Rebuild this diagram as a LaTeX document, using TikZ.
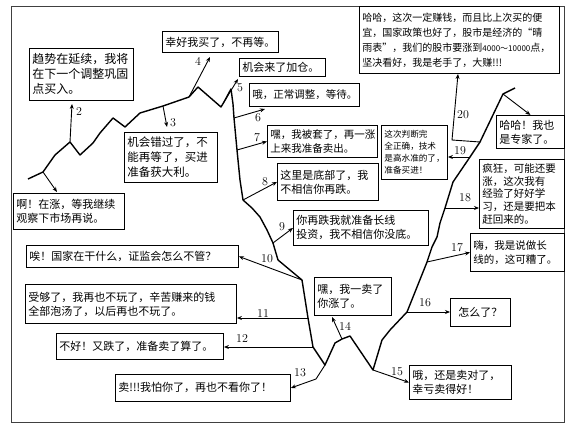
\documentclass[tikz,border=0pt]{standalone}
\usepackage{fontspec}
\newfontfamily\cjk{Noto Sans CJK SC}
\usetikzlibrary{arrows.meta}

\begin{document}
\begin{tikzpicture}[x=1pt,y=-1pt,
      bubble/.style={draw,line width=0.9pt,anchor=north west,inner sep=3pt,align=left,
        font=\cjk\fontsize{11}{14}\selectfont},
      small/.style={font=\cjk\fontsize{10.5}{14}\selectfont},
      trend/.style={line width=1.4pt,line join=round},
      arr/.style={line width=0.9pt,-{Stealth[length=5pt,width=4pt]}},
      num/.style={font=\fontsize{12}{14}\selectfont,inner sep=0pt}]
  \useasboundingbox (0,0) rectangle (576,428);
  \draw[line width=0.9pt,black!75] (11,6) rectangle (564,422);

  % the price curve
  \draw[trend] (28,179) -- (43,172) coordinate (p1) -- (55,155) -- (70,142) coordinate (p2)
    -- (80,155) -- (93,143) -- (100,133) -- (113,118) -- (125,127) -- (140,113)
    -- (163,106) coordinate (p3) -- (189,97) coordinate (p4) -- (198,87) -- (221,107)
    -- (224,102) coordinate (p5) -- (231,89) -- (233,104) -- (234,118) coordinate (p6)
    -- (237,150) coordinate (p7) -- (240,180) -- (243,200) coordinate (p8) -- (252,208)
    -- (260,217) -- (267,230) -- (273,243) coordinate (p9) -- (278,260)
    -- (302,280) coordinate (p10) -- (308,318) coordinate (p11) -- (313,347) coordinate (p12)
    -- (325,365) coordinate (p13) -- (335,343) -- (342,339) coordinate (p14) -- (350,336)
    -- (373,370) coordinate (p15) -- (382,340) -- (390,330) -- (407,312) coordinate (p16)
    -- (427,262) coordinate (p17) -- (432,247) -- (437,237) -- (440,223)
    -- (445,208) coordinate (p18) -- (453,182) -- (470,157) coordinate (p19)
    -- (480,142) coordinate (p20) -- (503,94) coordinate (ptop) -- (515,88);

  % what the investor says
  \node[bubble,text width=105pt,minimum height=36pt] (b1) at (13,193) {啊！在涨，等我继续\\观察下市场再说。};
  \node[bubble,text width=98pt,minimum height=52pt,font=\cjk\fontsize{12}{15}\selectfont] (b2) at (29,48) {趋势在延续，我将\\在下一个调整巩固\\点买入。};
  \node[bubble,text width=87pt,minimum height=50pt,font=\cjk\fontsize{11.5}{15}\selectfont] (b3) at (124,132) {机会错过了，不\\能再等了，买进\\准备获大利。};
  \node[bubble,text width=110pt,minimum height=21pt] (b4) at (162,31) {幸好我买了，不再等。};
  \node[bubble,text width=80pt,minimum height=18pt] (b5) at (239,58) {机会来了加仓。};
  \node[bubble,small,text width=104pt,minimum height=23pt] (b6) at (249,83) {哦，正常调整，等待。};
  \node[bubble,small,text width=104pt,minimum height=32pt] (b7) at (267,125) {嘿，我被套了，再一涨\\上来我准备卖出。};
  \node[bubble,text width=95pt,minimum height=37pt] (b8) at (277,163) {这里是底部了，我\\不相信你再跌。};
  \node[bubble,text width=129pt,minimum height=35pt] (b9) at (293,210) {你再跌我就准备长线\\投资，我不相信你没底。};
  \node[bubble,text width=206pt,minimum height=22pt] (b10) at (26,245) {唉！国家在干什么，证监会怎么不管？};
  \node[bubble,text width=205pt,minimum height=39pt] (b11) at (25,284) {受够了，我再也不玩了，辛苦赚来的钱\\全部泡汤了，以后再也不玩了。};
  \node[bubble,text width=161pt,minimum height=26pt] (b12) at (56,333) {不好！又跌了，准备卖了算了。};
  \node[bubble,text width=169pt,minimum height=27pt] (b13) at (115,374) {卖!!!我怕你了，再也不看你了！};
  \node[bubble,text width=71pt,minimum height=38pt] (b14) at (314,277) {嘿，我一卖了\\你涨了。};
  \node[bubble,text width=96pt,minimum height=34pt] (b15) at (409,365) {哦，还是卖对了，\\幸亏卖得好！};
  \node[bubble,text width=54pt,minimum height=28pt,align=center] (b16) at (450,298) {怎么了？};
  \node[bubble,small,text width=88pt,minimum height=38pt] (b17) at (470,233) {嗨，我是说做长\\线的，这可糟了。};
  \node[bubble,text width=79pt,minimum height=69pt,font=\cjk\fontsize{10.5}{12.8}\selectfont] (b18) at (479,159) {疯狂，可能还要\\涨，这次我有\\经验了好好学\\习，还是要把本\\赶回来的。};
  \node[bubble,text width=60pt,minimum height=54pt,font=\cjk\fontsize{8.6}{12}\selectfont] (b19) at (381,125) {这次判断完\\全正确，技术\\是高水准的了，\\准备买进！};
  \node[bubble,text width=62pt,minimum height=33pt] (b20) at (496,115) {哈哈！我也\\是专家了。};
  \node[bubble,text width=194pt,minimum height=67pt,font=\cjk\fontsize{10}{15}\selectfont] (btop) at (359,6) {哈哈，这次一定赚钱，而且比上次买的便\\宜，国家政策也好了，股市是经济的“晴\\雨表”，我们的股市要涨到{\fontsize{8}{15}\selectfont 4000～10000}点，\\坚决看好，我是老手了，大赚!!!};

  % free ends of the arrows
  \coordinate (t1) at (57,192);
  \coordinate (t2) at (72,104);
  \coordinate (t3) at (167,127);
  \coordinate (t4) at (210,57);
  \coordinate (t5) at (238,79);
  \coordinate (t6) at (265,109);
  \coordinate (k13) at (316,379);
  \coordinate (t14) at (332,317);
  \coordinate (k20) at (452,140);
  \coordinate (t20) at (458,74);

  \draw[arr] (p1) -- (t1);
  \draw[arr] (p2) -- (t2);
  \draw[arr] (p3) -- (t3);
  \draw[arr] (p4) -- (t4);
  \draw[arr] (p5) -- (t5);
  \draw[arr] (p6) -- (t6);
  \draw[arr] (p7) -- (b7.west);
  \draw[arr] (p8) -- (b8.west);
  \draw[arr] (p9) -- (b9.west);
  \draw[arr] (p10) -- (b10.east);
  \draw[arr] (p11) -- (b11.east |- p11);
  \draw[arr] (p12) -- (b12.east |- p12);
  \draw[arr] (p13) -- (k13) -- (b13.east);
  \draw[arr] (p14) -- (t14);
  \draw[arr] (p15) -- (b15.west);
  \draw[arr] (p16) -- (b16.west |- p16);
  \draw[arr] (p17) -- (b17.west);
  \draw[arr] (p18) -- (b18.west |- p18);
  \draw[arr] (p19) -- (b19.east |- p19);
  \draw[arr] (p20) -- (k20) -- (t20);
  \draw[arr] (ptop) -- (b20.north);

  % step numbers
  \node[num] (n2) at (79,112) {2};
  \node[num] (n3) at (173,123) {3};
  \node[num] (n4) at (198,61) {4};
  \node[num] (n5) at (240,88) {5};
  \node[num] (n6) at (258,118) {6};
  \node[num] (n7) at (257,138) {7};
  \node[num] (n8) at (265,182) {8};
  \node[num] (n9) at (282,227) {9};
  \node[num] (n10) at (267,259) {10};
  \node[num] (n11) at (263,314) {11};
  \node[num] (n12) at (242,339) {12};
  \node[num] (n13) at (300,373) {13};
  \node[num] (n14) at (345,326) {14};
  \node[num] (n15) at (397,372) {15};
  \node[num] (n16) at (425,303) {16};
  \node[num] (n17) at (457,248) {17};
  \node[num] (n18) at (465,198) {18};
  \node[num] (n19) at (460,151) {19};
  \node[num] (n20) at (463,115) {20};
\end{tikzpicture}
\end{document}
